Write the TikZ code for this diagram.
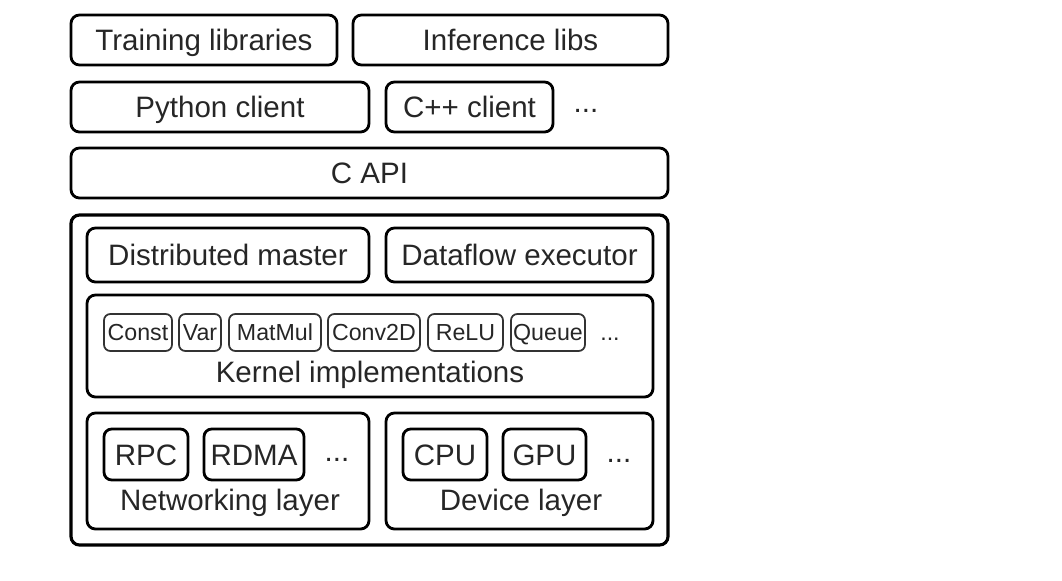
\documentclass[tikz,border=0pt]{standalone}
\usepackage{fontspec}
\setmainfont{Liberation Sans}
\usepackage{tikz}
\newcommand{\nrm}{\fontsize{8.4}{10}\selectfont}
\newcommand{\sml}{\fontsize{6.6}{7.8}\selectfont}

\begin{document}
\begin{tikzpicture}[
   layer/.style={draw,line width=0.8pt,rounded corners=2.4pt,inner sep=0pt,
                 text height=6pt,text depth=0pt,text=black!85,font=\nrm},
   op/.style={draw=black!80,line width=0.5pt,rounded corners=1.8pt,inner sep=0pt,
              text height=4.7pt,text depth=0pt,
              minimum height=0.37cm,text=black!85,font=\sml},
   dev/.style={draw,line width=0.8pt,rounded corners=2.2pt,inner sep=0pt,
               text height=6pt,text depth=0pt,
               minimum height=0.51cm,text=black!85,font=\nrm},
   lbl/.style={inner sep=0pt,text height=6pt,text depth=0pt,text=black!85,font=\nrm},
   dots/.style={inner sep=0pt,anchor=base,text=black!85,font=\nrm}]
   \useasboundingbox (0,0) rectangle (10.62,-5.80);
   % client side
   \node[layer,minimum width=2.66cm,minimum height=0.50cm] (train) at (2.04,-0.40) {Training libraries};
   \node[layer,minimum width=3.15cm,minimum height=0.50cm] (infer) at (5.105,-0.40) {Inference libs};
   \node[layer,minimum width=2.98cm,minimum height=0.50cm] (python) at (2.20,-1.07) {Python client};
   \node[layer,minimum width=1.67cm,minimum height=0.50cm] (cpp) at (4.695,-1.07) {C++ client};
   \node[dots] (clidots) at (5.86,-1.12) {...};
   \node[layer,minimum width=5.97cm,minimum height=0.50cm] (capi) at (3.695,-1.73) {C API};
   % core runtime
   \node[layer,line width=0.9pt,minimum width=5.97cm,minimum height=3.30cm] (core) at (3.695,-3.80) {};
   \node[layer,minimum width=2.82cm,minimum height=0.54cm] (master) at (2.28,-2.55) {Distributed master};
   \node[layer,minimum width=2.67cm,minimum height=0.54cm] (exec) at (5.195,-2.55) {Dataflow executor};
   \node[layer,minimum width=5.66cm,minimum height=1.02cm] (kernels) at (3.70,-3.46) {};
   \node[op,minimum width=0.68cm] (const) at (1.38,-3.325) {Const};
   \node[op,minimum width=0.42cm] (var) at (2.00,-3.325) {Var};
   \node[op,minimum width=0.92cm] (matmul) at (2.75,-3.325) {MatMul};
   \node[op,minimum width=0.92cm] (conv) at (3.74,-3.325) {Conv2D};
   \node[op,minimum width=0.75cm] (relu) at (4.655,-3.325) {ReLU};
   \node[op,minimum width=0.74cm] (queue) at (5.48,-3.325) {Queue};
   \node[dots,font=\sml] (opdots) at (6.10,-3.40) {...};
   \node[lbl] (kernlbl) at (3.70,-3.72) {Kernel implementations};
   % networking and devices
   \node[layer,minimum width=2.82cm,minimum height=1.16cm] (net) at (2.28,-4.71) {};
   \node[layer,minimum width=2.67cm,minimum height=1.16cm] (device) at (5.195,-4.71) {};
   \node[dev,minimum width=0.84cm] (rpc) at (1.46,-4.545) {RPC};
   \node[dev,minimum width=1.00cm] (rdma) at (2.54,-4.545) {RDMA};
   \node[dots] (netdots) at (3.37,-4.61) {...};
   \node[dev,minimum width=0.84cm] (cpu) at (4.45,-4.545) {CPU};
   \node[dev,minimum width=0.83cm] (gpu) at (5.445,-4.545) {GPU};
   \node[dots] (devdots) at (6.19,-4.62) {...};
   \node[lbl] (netlbl) at (2.30,-5.00) {Networking layer};
   \node[lbl] (devlbl) at (5.21,-5.00) {Device layer};
\end{tikzpicture}
\end{document}
